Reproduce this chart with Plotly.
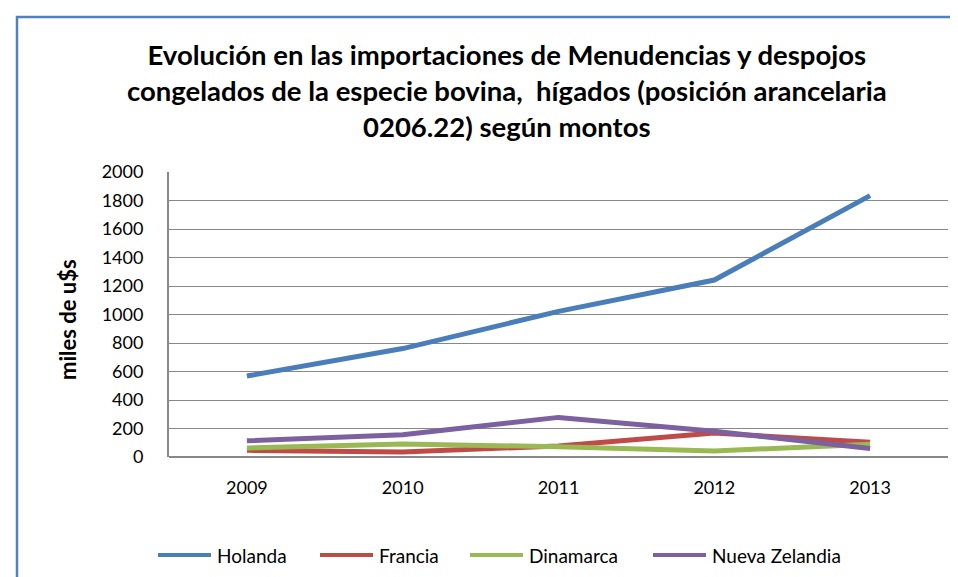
import plotly.graph_objects as go

years = ["2009", "2010", "2011", "2012", "2013"]
holanda = [568, 761, 1022, 1242, 1834]
francia = [47, 35, 78, 168, 103]
dinamarca = [63, 91, 72, 42, 90]
nueva_zelandia = [114, 156, 278, 180, 60]

series_names = ["Holanda", "Francia", "Dinamarca", "Nueva Zelandia"]
series_values = [holanda, francia, dinamarca, nueva_zelandia]
series_colors = ["#4A7EBB", "#BE4B48", "#98B954", "#7D60A0"]

FONT = "Lato, Carlito, Calibri, sans-serif"
W, H = 958, 577
L, R, T, B = 161, 18, 164, 128
pw, ph = W - L - R, H - T - B


def px_x(x):
    return (x - L) / pw


def px_y(y):
    return (H - B - y) / ph


fig = go.Figure()
for name, vals, col in zip(series_names, series_values, series_colors):
    fig.add_trace(go.Scatter(x=years, y=vals, name=name, mode="lines",
                             line=dict(color=col, width=5), showlegend=False))

shapes = [dict(type="rect", xref="paper", yref="paper",
               x0=px_x(9), x1=px_x(990), y0=px_y(600), y1=px_y(9),
               line=dict(color="#4F81BD", width=2.5), layer="below")]
annotations = [dict(text="<b>miles de u$s</b>", xref="paper", yref="paper",
                    x=px_x(59), y=px_y(311), textangle=-90, showarrow=False,
                    xanchor="center", yanchor="middle",
                    font=dict(size=22, family=FONT, color="black"))]

# legend (manual, to match swatch length)
leg_x = [150, 312, 462, 645]
leg_y = 547
for name, col, lx in zip(series_names, series_colors, leg_x):
    shapes.append(dict(type="line", xref="paper", yref="paper",
                       x0=px_x(lx), x1=px_x(lx + 53), y0=px_y(leg_y), y1=px_y(leg_y),
                       line=dict(color=col, width=4)))
    annotations.append(dict(text=name, xref="paper", yref="paper",
                            x=px_x(lx + 57), y=px_y(leg_y), showarrow=False,
                            xanchor="left", yanchor="middle",
                            font=dict(size=19, family=FONT, color="black")))

# title as annotation for precise placement
annotations.append(dict(
    text="<b>Evolución en las importaciones de Menudencias y despojos<br>congelados de la especie bovina,  hígados (posición arancelaria<br>0206.22) según montos</b>",
    xref="paper", yref="paper", x=px_x(499), y=px_y(82), xanchor="center", yanchor="middle",
    showarrow=False, align="center",
    font=dict(size=27.5, family=FONT, color="black"),
))

fig.update_layout(
    width=W, height=H,
    margin=dict(l=L, r=R, t=T, b=B),
    paper_bgcolor="white", plot_bgcolor="white",
    font=dict(family=FONT, size=18, color="black"),
    xaxis=dict(
        type="category", showgrid=False, showline=False, ticks="",
        tickfont=dict(size=18), range=[-0.5, 4.5], zeroline=False,
        ticklabelstandoff=18,
    ),
    yaxis=dict(
        range=[0, 2000], dtick=200, showgrid=True, gridcolor="#888888", gridwidth=1.2,
        showline=True, linecolor="#888888", linewidth=2, ticks="", zeroline=True,
        zerolinecolor="#888888", zerolinewidth=2,
        tickfont=dict(size=18), ticklabelstandoff=20,
    ),
    showlegend=False,
    shapes=shapes,
    annotations=annotations,
)

fig.write_html("out.html")
